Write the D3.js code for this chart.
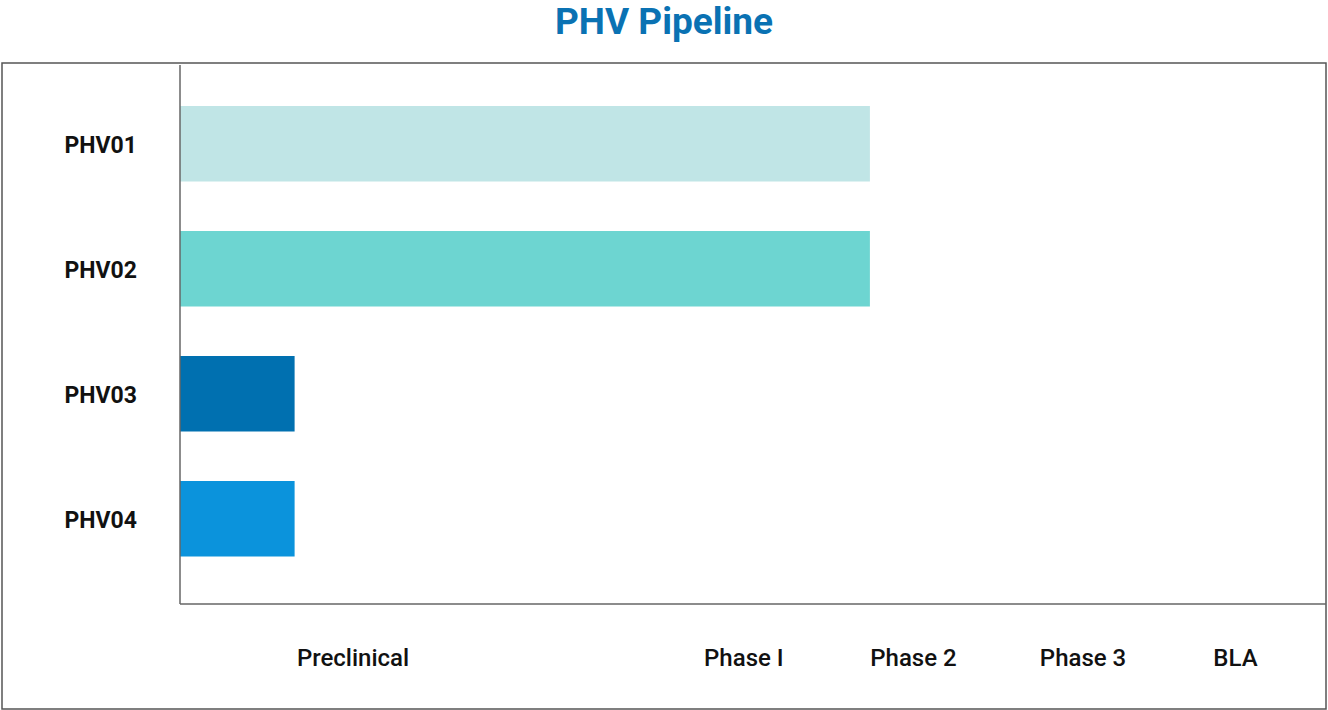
<!DOCTYPE html>
<html>
<head>
<meta charset="utf-8">
<script src="https://cdn.jsdelivr.net/npm/d3@7"></script>
<style>
  body { margin: 0; background: #fff; font-family: Roboto, "Noto Sans", sans-serif; }
</style>
</head>
<body>
<svg id="chart" width="1328" height="710"></svg>
<script>
const candidates = ['PHV01', 'PHV02', 'PHV03', 'PHV04'];
const progress = [60.2, 60.2, 10, 10];
const barColors = ['#c0e5e6', '#6dd5d1', '#0070b0', '#0b93dc'];
const stageLabels = ['Preclinical', 'Phase I', 'Phase 2', 'Phase 3', 'BLA'];
const stagePositions = [15.1, 49.2, 64.0, 78.8, 92.1];

const svg = d3.select('#chart');

svg.append('text')
  .attr('x', 664).attr('y', 34)
  .attr('text-anchor', 'middle')
  .attr('font-size', 37).attr('font-weight', 700)
  .attr('fill', '#0a72b3')
  .text('PHV Pipeline');

svg.append('rect')
  .attr('x', 2).attr('y', 63).attr('width', 1324).attr('height', 646)
  .attr('fill', 'none').attr('stroke', '#555').attr('stroke-width', 1.5);

const x = d3.scaleLinear().domain([0, 100]).range([180, 1326]);
const y = d3.scaleBand().domain(candidates).range([106, 106 + 4 * 125]).padding(0);

svg.selectAll('rect.bar')
  .data(candidates)
  .enter().append('rect')
  .attr('class', 'bar')
  .attr('x', x(0))
  .attr('y', d => y(d))
  .attr('width', (d, i) => x(progress[i]) - x(0))
  .attr('height', 75.5)
  .attr('fill', (d, i) => barColors[i]);

svg.selectAll('text.cand')
  .data(candidates)
  .enter().append('text')
  .attr('class', 'cand')
  .attr('x', 137)
  .attr('y', d => y(d) + 39)
  .attr('dy', '0.35em')
  .attr('text-anchor', 'end')
  .attr('font-size', 23).attr('font-weight', 700)
  .attr('fill', '#111')
  .text(d => d);

svg.selectAll('text.stage')
  .data(stageLabels)
  .enter().append('text')
  .attr('class', 'stage')
  .attr('x', (d, i) => x(stagePositions[i]))
  .attr('y', 658)
  .attr('dy', '0.35em')
  .attr('text-anchor', 'middle')
  .attr('font-size', 24).attr('font-weight', 500)
  .attr('fill', '#111')
  .text(d => d);

svg.append('line')
  .attr('x1', 180).attr('x2', 180).attr('y1', 65).attr('y2', 604)
  .attr('stroke', '#666').attr('stroke-width', 1.5);
svg.append('line')
  .attr('x1', 180).attr('x2', 1326).attr('y1', 604).attr('y2', 604)
  .attr('stroke', '#666').attr('stroke-width', 1.5);
</script>
</body>
</html>
